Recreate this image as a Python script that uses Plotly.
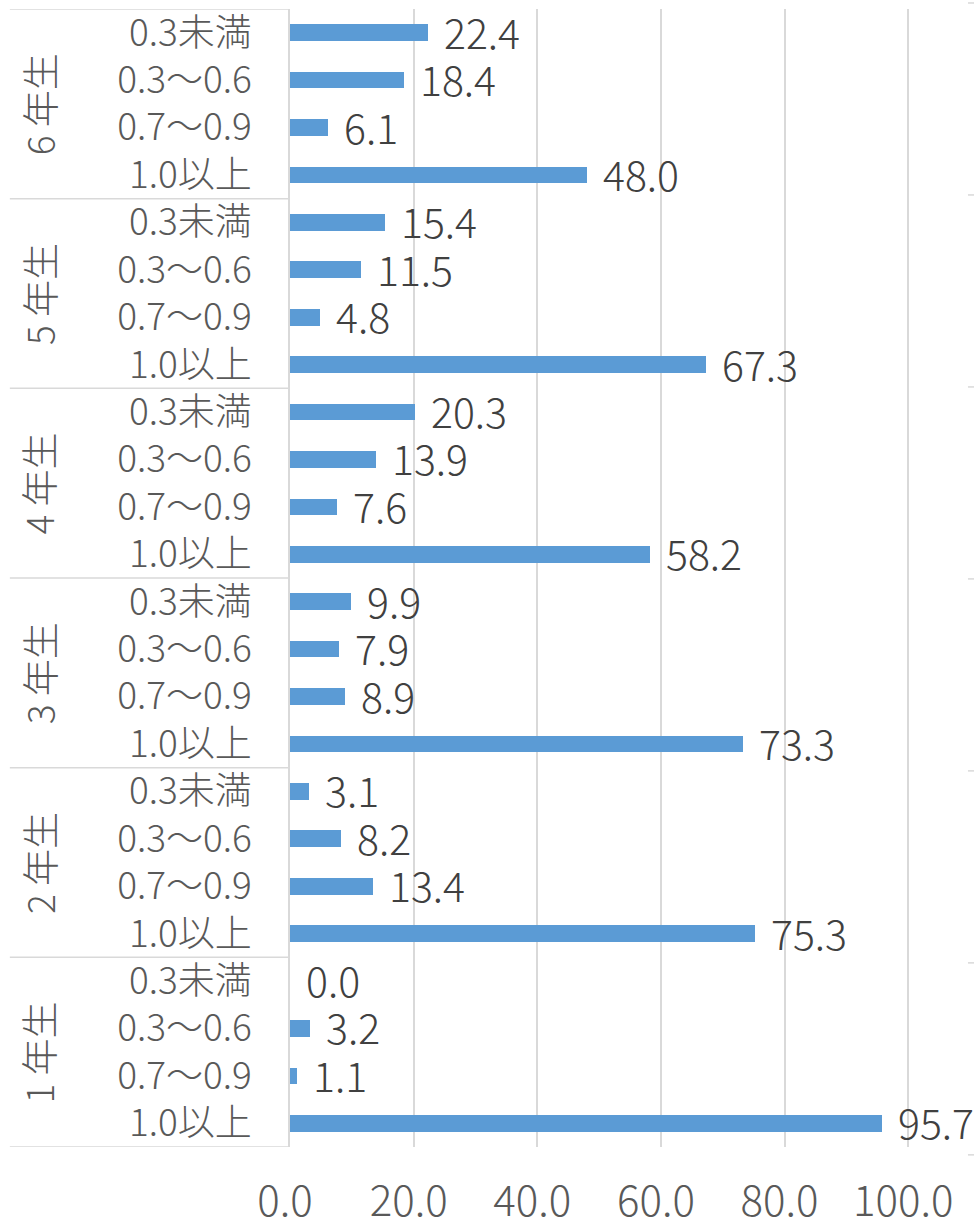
import plotly.graph_objects as go

grades = ["1年生", "2年生", "3年生", "4年生", "5年生", "6年生"]
grade_labels = ["1 年生", "2 年生", "3 年生", "4 年生", "5 年生", "6 年生"]
# bottom-to-top order within each grade
categories = ["1.0以上", "0.7～0.9", "0.3～0.6", "0.3未満"]
values = {
    "1年生": [95.7, 1.1, 3.2, 0.0],
    "2年生": [75.3, 13.4, 8.2, 3.1],
    "3年生": [73.3, 8.9, 7.9, 9.9],
    "4年生": [58.2, 7.6, 13.9, 20.3],
    "5年生": [67.3, 4.8, 11.5, 15.4],
    "6年生": [48.0, 6.1, 18.4, 22.4],
}
x_ticks = [0, 20, 40, 60, 80, 100]

FONT = "Noto Sans CJK JP"
GRID = "#D9D9D9"
TXT = "#595959"

ys, xs, ticktext = [], [], []
for gi, g in enumerate(grades):
    for ci, c in enumerate(categories):
        ys.append(gi * len(categories) + ci)
        xs.append(values[g][ci])
        ticktext.append(c)

fig = go.Figure()
fig.add_trace(go.Bar(
    x=xs, y=ys, orientation="h",
    marker=dict(color="#5B9BD5", line=dict(width=0)),
    width=0.35, cliponaxis=False, showlegend=False,
))

annotations = []
for x, y in zip(xs, ys):
    annotations.append(dict(
        x=x, y=y, xref="x", yref="y", text=f"{x:.1f}", showarrow=False,
        xanchor="left", yanchor="middle", xshift=14, yshift=2,
        font=dict(family=FONT, size=41, color="#404040", weight=300),
    ))

n = len(categories)
for gi, lab in enumerate(grade_labels):
    annotations.append(dict(
        x=-0.37, y=gi * n + (n - 1) / 2, xref="paper", yref="y",
        text=lab, showarrow=False, textangle=-90,
        xanchor="center", yanchor="middle",
        font=dict(family=FONT, size=37, color=TXT, weight=300),
    ))

shapes = []
for k in range(len(grades) + 1):
    yb = k * n - 0.5
    shapes.append(dict(type="line", xref="paper", yref="y",
                       x0=-0.412, x1=0, y0=yb, y1=yb,
                       line=dict(color=GRID, width=1.5)))
for k in range(len(grades) + 1):
    yp = 1.0053 - k * 0.1687
    shapes.append(dict(type="line", xref="paper", yref="paper",
                       x0=0.997, x1=1.006, y0=yp, y1=yp,
                       line=dict(color=GRID, width=1.5)))

fig.update_layout(
    width=974, height=1225,
    margin=dict(l=290, r=4, t=9, b=78),
    paper_bgcolor="white", plot_bgcolor="white",
    font=dict(family=FONT, color=TXT),
    bargap=0,
    annotations=annotations, shapes=shapes,
    xaxis=dict(
        range=[0, 110], tickvals=x_ticks,
        ticktext=[f"{v:.1f}" for v in x_ticks],
        showgrid=True, gridcolor=GRID, gridwidth=1.5,
        zeroline=False, showline=False, ticks="",
        ticklabelstandoff=26, ticklabelshift=-5, automargin=False,
        tickfont=dict(family=FONT, size=42, color=TXT, weight=300),
    ),
    yaxis=dict(
        range=[-0.5, len(ys) - 0.5], tickvals=ys, ticktext=ticktext,
        showgrid=False, zeroline=False, showline=True,
        linecolor=GRID, linewidth=1.5, ticks="",
        ticklabelstandoff=29, automargin=False,
        tickfont=dict(family=FONT, size=37, color=TXT, weight=300),
    ),
)

fig.write_html("out.html")
